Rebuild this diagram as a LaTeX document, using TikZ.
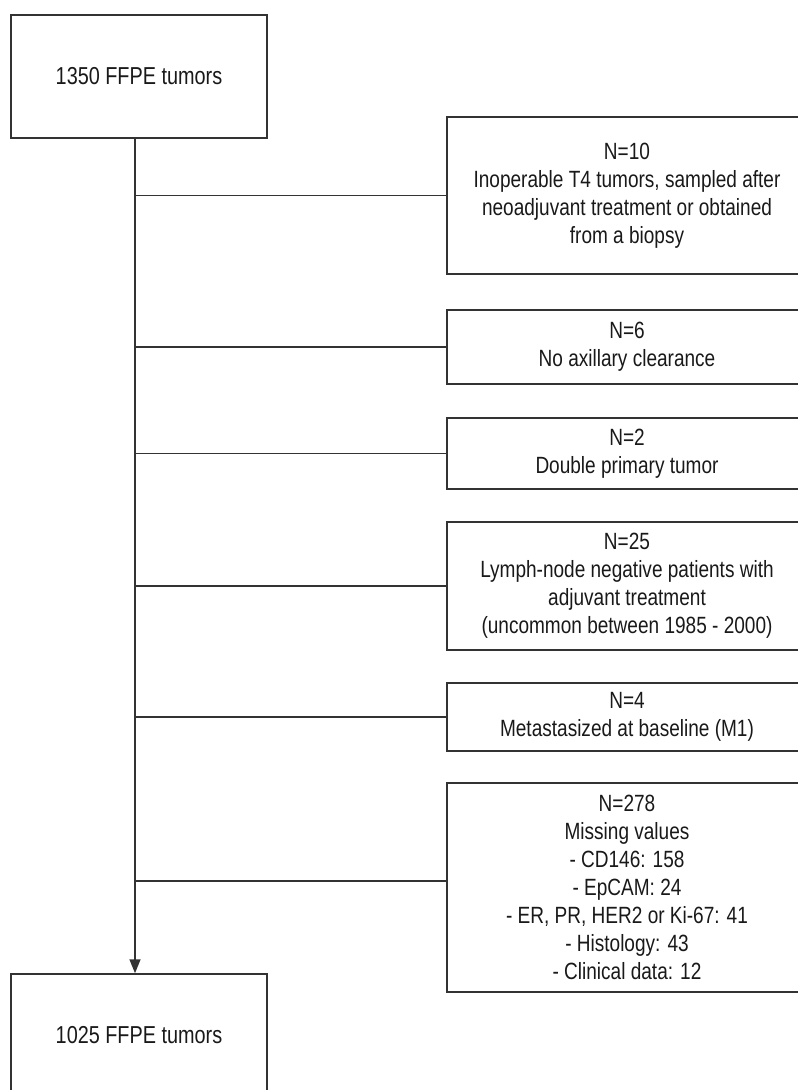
\documentclass[tikz,border=0pt]{standalone}
\usepackage{fontspec}
\setmainfont{Liberation Sans}[FakeStretch=0.81]
\usepackage{tikz}
\usetikzlibrary{arrows.meta}
\colorlet{linecol}{black!80}
\colorlet{textcol}{black!90}
\tikzset{
  mainbox/.style={draw=linecol, line width=1.5pt, text=textcol,
    minimum width=256pt, minimum height=123pt, inner sep=0pt,
    font=\fontsize{24.5}{28}\selectfont},
  exclbox/.style={draw=linecol, line width=1.5pt, text=textcol,
    minimum width=360pt, inner sep=0pt, align=center,
    font=\fontsize{23.5}{28}\selectfont},
  flow/.style={draw=linecol, line width=1.5pt}
}

\begin{document}
\begin{tikzpicture}[x=1pt, y=-1pt, >={Triangle[width=11pt,length=14pt]}]

  % Page frame.
  \useasboundingbox (0,0) rectangle (798,1090);
  \clip (0,0) rectangle (798,1090);

  % Start and end populations.
  \node[mainbox] (start) at (139,76.5) {1350 FFPE tumors};
  \node[mainbox, minimum height=122pt] (final) at (139,1035) {1025 FFPE tumors};

  % Exclusion boxes.
  \node[exclbox, minimum height=157pt] (ex1) at (627,195.5)
    {N=10\\Inoperable T4 tumors, sampled after\\neoadjuvant treatment or obtained\\from a biopsy};
  \node[exclbox, minimum height=74pt] (ex2) at (627,347)
    {N=6\\No axillary clearance};
  \node[exclbox, minimum height=71pt] (ex3) at (627,453.5)
    {N=2\\Double primary tumor};
  \node[exclbox, minimum height=128pt] (ex4) at (627,586)
    {N=25\\Lymph-node negative patients with\\adjuvant treatment\\(uncommon between 1985 - 2000)};
  \node[exclbox, minimum height=68pt] (ex5) at (627,717)
    {N=4\\Metastasized at baseline (M1)};
  \node[exclbox, minimum height=209pt] (ex6) at (627,887.5)
    {N=278\\Missing values\\- CD146: 158\\- EpCAM: 24\\- ER, PR, HER2 or Ki-67: 41\\- Histology: 43\\- Clinical data: 12};

  % Main flow line.
  \coordinate (spine) at ([xshift=-4pt]start.south);
  \draw[flow, ->] (spine) -- (spine |- final.north);

  % Branches to the exclusions.
  \foreach \ex in {ex1,ex2,ex3,ex4,ex5} {
    \draw[flow] (spine |- \ex.west) -- (\ex.west);
  }
  \draw[flow] (spine |- 0,881) -- (ex6.west |- 0,881);

\end{tikzpicture}
\end{document}
